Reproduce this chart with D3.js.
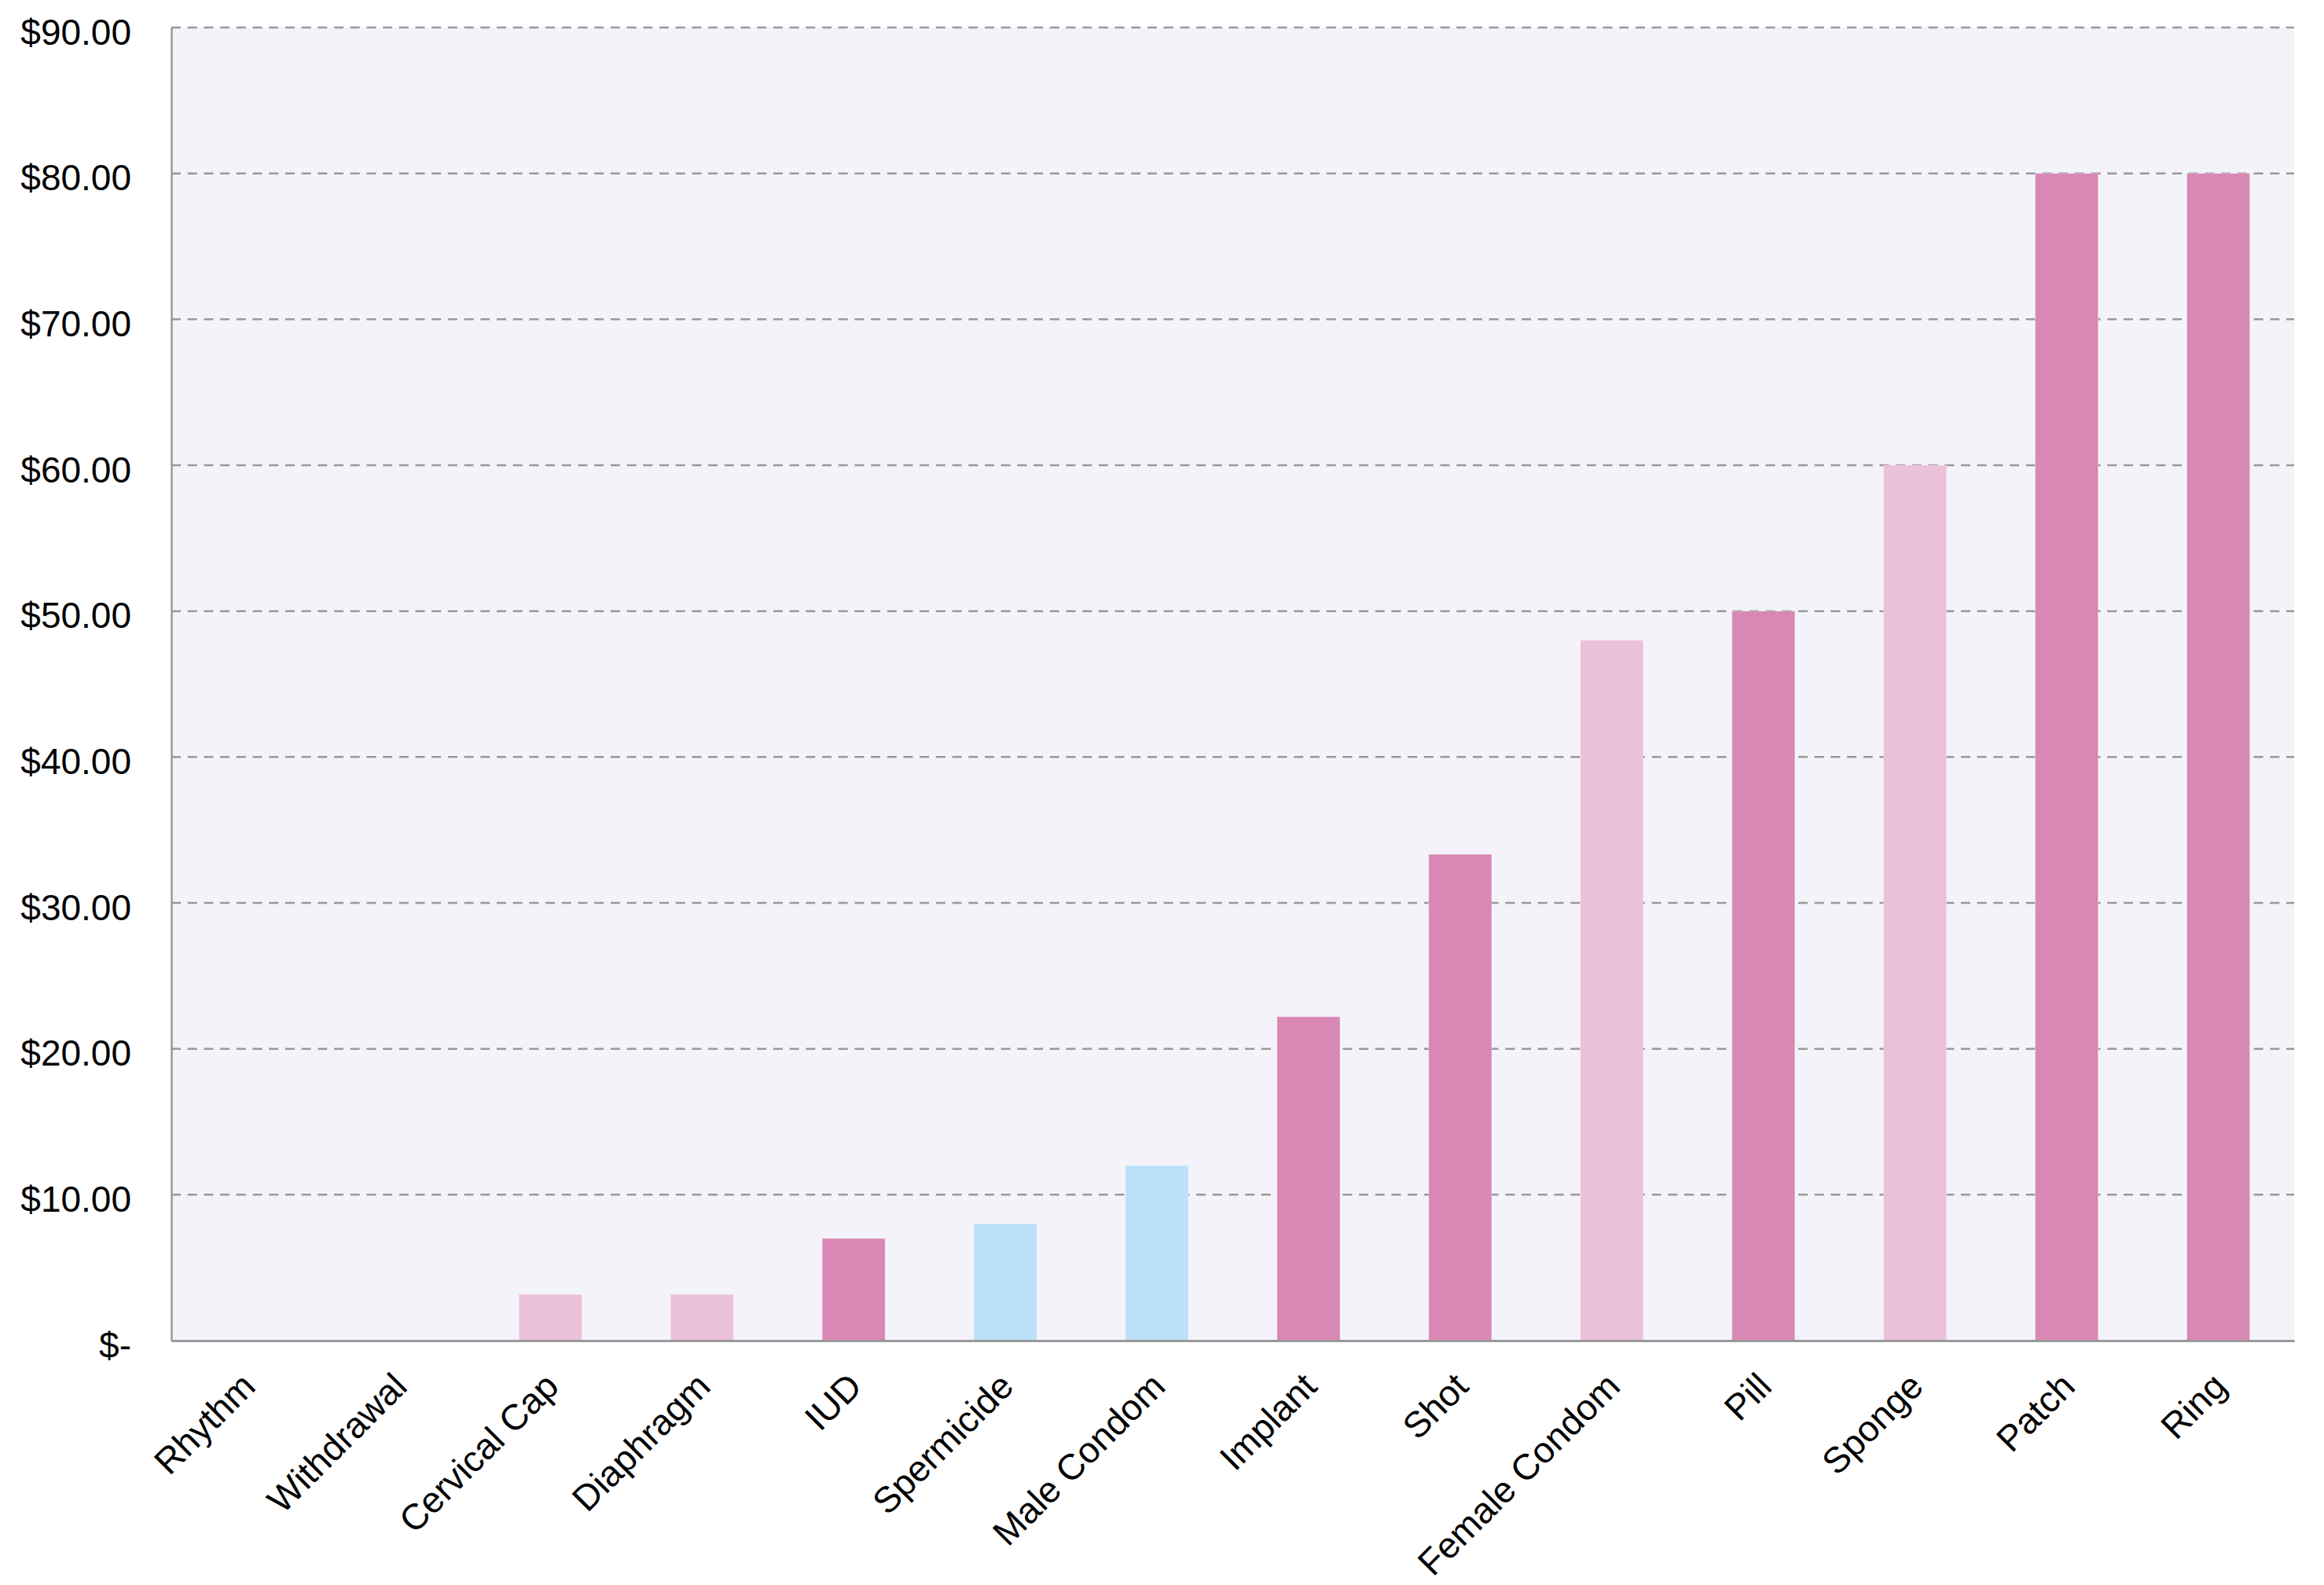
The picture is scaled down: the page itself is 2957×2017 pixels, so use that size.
<!DOCTYPE html>
<html>
<head>
<meta charset="utf-8">
<script src="https://cdn.jsdelivr.net/npm/d3@7"></script>
<style>
  html, body { margin: 0; padding: 0; background: #ffffff; }
  svg { display: block; }
  text { font-family: "Liberation Sans", Arial, Helvetica, sans-serif; fill: #000; }
</style>
</head>
<body>
<svg id="chart" width="2957" height="2017"></svg>
<script>
const categories = ["Rhythm", "Withdrawal", "Cervical Cap", "Diaphragm", "IUD", "Spermicide",
  "Male Condom", "Implant", "Shot", "Female Condom", "Pill", "Sponge", "Patch", "Ring"];
const values = [0, 0, 3.17, 3.17, 7, 8, 12, 22.2, 33.33, 48, 50, 60, 80, 80];
const groups = ["none", "none", "light", "light", "dark", "blue", "blue", "dark", "dark", "light", "dark", "light", "dark", "dark"];
const yTicks = [0, 10, 20, 30, 40, 50, 60, 70, 80, 90];
const yTickLabels = ["$-", "$10.00", "$20.00", "$30.00", "$40.00", "$50.00", "$60.00", "$70.00", "$80.00", "$90.00"];
const groupColors = { dark: "#D987B4", light: "#EBC1D9", blue: "#BBE0F8", none: "#D987B4" };

const margin = { left: 218, right: 2957 - 2919, top: 35, bottom: 2017 - 1706 };
const W = 2957, H = 2017;
const svg = d3.select("#chart");

const x = d3.scaleBand()
  .domain(categories)
  .range([margin.left, W - margin.right])
  .paddingInner(0.585)
  .paddingOuter(0.2925);

const y = d3.scaleLinear()
  .domain([0, 90])
  .range([H - margin.bottom, margin.top]);

// plot background
svg.append("rect")
  .attr("x", margin.left)
  .attr("y", margin.top)
  .attr("width", W - margin.right - margin.left)
  .attr("height", (H - margin.bottom) - margin.top)
  .attr("fill", "#F3F3F9");

// gridlines
svg.append("g")
  .selectAll("line")
  .data(yTicks.filter(d => d > 0))
  .join("line")
  .attr("x1", margin.left)
  .attr("x2", W - margin.right)
  .attr("y1", d => y(d))
  .attr("y2", d => y(d))
  .attr("stroke", "#999999")
  .attr("stroke-width", 2.5)
  .attr("stroke-dasharray", "12,8.7");

// bars
svg.append("g")
  .selectAll("rect")
  .data(categories.map((c, i) => ({ c, v: values[i], g: groups[i] })))
  .join("rect")
  .attr("x", d => x(d.c))
  .attr("width", x.bandwidth())
  .attr("y", d => y(d.v))
  .attr("height", d => y(0) - y(d.v))
  .attr("fill", d => groupColors[d.g])
  .attr("stroke", "rgba(255,255,255,0.3)")
  .attr("stroke-width", 1);

// y axis
const yAxis = d3.axisLeft(y)
  .tickValues(yTicks)
  .tickSize(0)
  .tickPadding(51)
  .tickFormat((d, i) => yTickLabels[i]);
const gy = svg.append("g")
  .attr("transform", `translate(${margin.left},0)`)
  .call(yAxis);
gy.select(".domain").attr("stroke", "#999999").attr("stroke-width", 2.5);
gy.selectAll("text")
  .attr("font-size", 46)
  .attr("font-family", "Liberation Sans, Arial, sans-serif")
  .attr("fill", "#000")
  .attr("dy", "0.46em");

// x axis
const xAxis = d3.axisBottom(x).tickSize(0).tickPadding(0);
const gx = svg.append("g")
  .attr("transform", `translate(0,${H - margin.bottom})`)
  .call(xAxis);
gx.select(".domain").attr("stroke", "#999999").attr("stroke-width", 3);
gx.selectAll("text")
  .attr("font-size", 46)
  .attr("font-family", "Liberation Sans, Arial, sans-serif")
  .attr("fill", "#000")
  .attr("text-anchor", "end")
  .attr("y", 0)
  .attr("dy", 0)
  .attr("transform", "translate(13,61) rotate(-45)");
</script>
</body>
</html>
